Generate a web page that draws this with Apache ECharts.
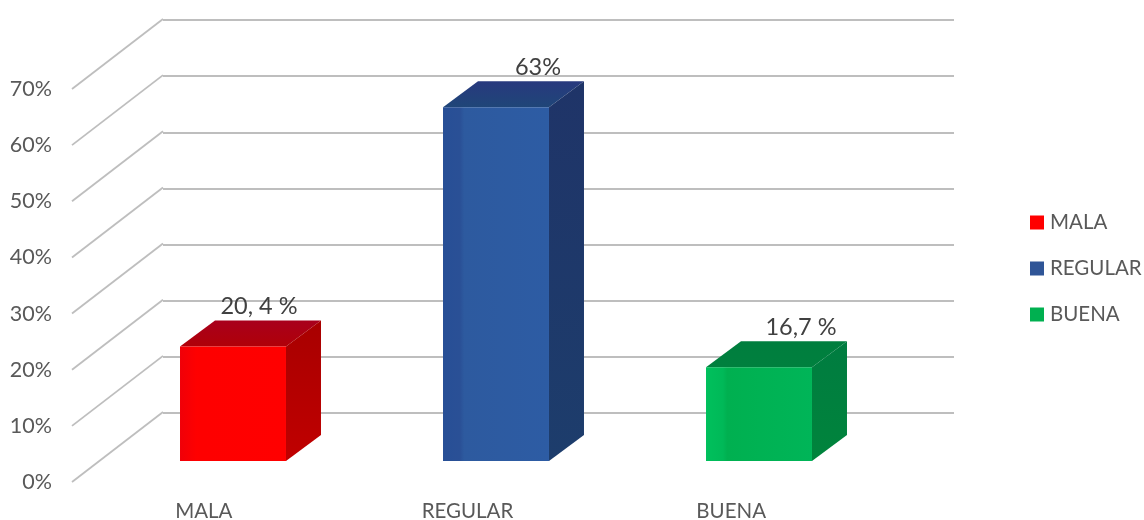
<!DOCTYPE html>
<html><head><meta charset="utf-8">
<style>html,body{margin:0;padding:0;background:#fff}#c{width:1144px;height:520px}</style>
<script src="https://cdn.jsdelivr.net/npm/echarts@6/dist/echarts.min.js"></script>
</head><body><div id="c"></div>
<script>
const categories = ['MALA', 'REGULAR', 'BUENA'];
const values = [20.4, 63, 16.7];
const valueLabels = ['20, 4 %', '63%', '16,7 %'];
const yTicks = [0, 10, 20, 30, 40, 50, 60, 70];

const labelShift = [26, 42, 42];
const faces = [
  {front: ['#f00008', '#ff0000', '#fe0000', '#ff0000'], side: ['#c00000', '#a80000'], top: ['#b00008', '#a8001c']},
  {front: ['#274f96', '#2a5096', '#2d5a9f', '#2d5ca4'], side: ['#1d3d6c', '#1f3468'], top: ['#1f4678', '#28397e']},
  {front: ['#00c05c', '#00b958', '#00b050', '#00b558'], side: ['#00843c', '#007c40'], top: ['#00803e', '#007e3e']}
];
const legendColors = ['#ff0000', '#2f5597', '#00b050'];
const depth = {bar: [35, -26], wall: [91, -70]};
const textColor = '#595959';
const lineColor = '#bebebe';
const font = 'Lato, Carlito, sans-serif';

function vGrad(c) { return {type: 'linear', x: 0, y: 1, x2: 0, y2: 0, colorStops: [{offset: 0, color: c[0]}, {offset: 1, color: c[1]}]}; }
function hGrad(c) { return {type: 'linear', x: 0, y: 0, x2: 1, y2: 0, colorStops: [
  {offset: 0, color: c[0]}, {offset: 0.16, color: c[1]}, {offset: 0.2, color: c[2]}, {offset: 1, color: c[3]}]}; }

function barItem(i) {
  return function (params, api) {
    const top = api.coord([i, api.value(1)]);
    const base = api.coord([i, 0]);
    const w = api.size([1, 0])[0] * 0.403;
    const l = top[0] - w / 2, r = top[0] + w / 2, t = top[1], b = base[1];
    const dx = depth.bar[0], dy = depth.bar[1];
    const f = faces[i];
    return {type: 'group', children: [
      {type: 'polygon', shape: {points: [[l, t], [l + dx, t + dy], [r + dx, t + dy], [r, t]]}, style: {fill: vGrad(f.top)}},
      {type: 'polygon', shape: {points: [[r, t], [r + dx, t + dy], [r + dx, b + dy], [r, b]]}, style: {fill: vGrad(f.side)}},
      {type: 'rect', shape: {x: l, y: t, width: w, height: b - t}, style: {fill: hGrad(f.front)}},
      {type: 'text', style: {text: valueLabels[i], x: top[0] + labelShift[i], y: t + dy - 14, align: 'center', verticalAlign: 'middle', fill: '#404040', font: '23.5px ' + font}}
    ]};
  };
}

const commonHidden = {axisLine: {show: false}, axisTick: {show: false}, axisLabel: {show: false}, splitLine: {show: false}};

const option = {
  animation: false,
  backgroundColor: '#fff',
  grid: [
    {left: 163, top: 20, width: 791, height: 393, outerBoundsMode: 'none'},
    {left: 72, top: 89, width: 791, height: 393, outerBoundsMode: 'none'},
    {left: 101.5, top: 68, width: 789, height: 393, outerBoundsMode: 'none'}
  ],
  xAxis: [
    Object.assign({type: 'category', gridIndex: 0, data: categories}, commonHidden),
    {type: 'category', gridIndex: 1, data: categories, axisLine: {show: false}, axisTick: {show: false}, splitLine: {show: false},
      axisLabel: {color: textColor, fontFamily: font, fontSize: 20.5, margin: 19}},
    Object.assign({type: 'category', gridIndex: 2, data: categories}, commonHidden)
  ],
  yAxis: [
    {type: 'value', gridIndex: 0, min: 0, max: 70, interval: 10, axisLine: {show: false}, axisTick: {show: false}, axisLabel: {show: false},
      splitLine: {show: true, lineStyle: {color: lineColor, width: 2}}},
    {type: 'value', gridIndex: 1, min: 0, max: 70, interval: 10, axisLine: {show: false}, axisTick: {show: false}, splitLine: {show: false},
      axisLabel: {color: textColor, fontFamily: font, fontSize: 21.5, margin: 20, formatter: '{value}%'}},
    Object.assign({type: 'value', gridIndex: 2, min: 0, max: 70, interval: 10}, commonHidden)
  ],
  legend: {
    orient: 'vertical', left: 1025, top: 207, itemWidth: 14, itemHeight: 14, itemGap: 25,
    icon: 'rect', data: categories,
    textStyle: {color: textColor, fontFamily: font, fontSize: 20.5, padding: [0, 0, 0, 1]}
  },
  series: [
    {type: 'custom', name: 'walls', xAxisIndex: 1, yAxisIndex: 1, silent: true, z: 1,
      data: yTicks.map(v => [0, v]),
      renderItem(params, api) {
        const x = params.coordSys.x;
        const y = api.coord([0, api.value(1)])[1];
        return {type: 'line', shape: {x1: x, y1: y, x2: x + depth.wall[0], y2: y + depth.wall[1]},
          style: {stroke: lineColor, lineWidth: 1.8, fill: null}};
      }},
    ...categories.map((name, i) => ({
      type: 'custom', name, xAxisIndex: 2, yAxisIndex: 2, z: 3,
      itemStyle: {color: legendColors[i]},
      data: [[i, values[i]]],
      renderItem: barItem(i)
    }))
  ]
};
const chart = echarts.init(document.getElementById('c'), null, {renderer: 'canvas'});
chart.setOption(option);
</script></body></html>
